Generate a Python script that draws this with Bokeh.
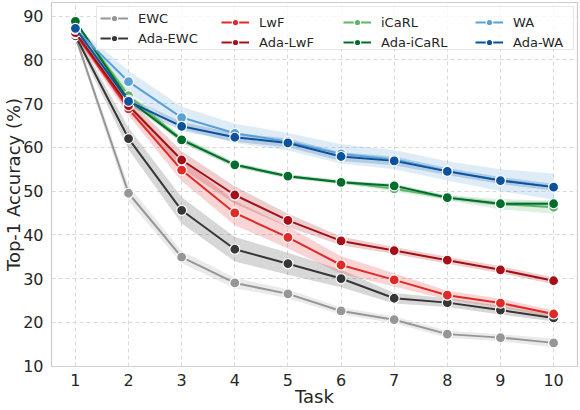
from bokeh.plotting import figure
from bokeh.models import Range1d, FixedTicker, Legend, LegendItem
from bokeh.embed import file_html
from bokeh.resources import INLINE

tasks = [1, 2, 3, 4, 5, 6, 7, 8, 9, 10]
x_ticks = [1, 2, 3, 4, 5, 6, 7, 8, 9, 10]
y_ticks = [10, 20, 30, 40, 50, 60, 70, 80, 90]

methods = ["EWC", "Ada-EWC", "LwF", "Ada-LwF", "iCaRL", "Ada-iCaRL", "WA", "Ada-WA"]

ewc = [85.3, 49.5, 34.9, 29.0, 26.5, 22.6, 20.6, 17.3, 16.5, 15.3]
ada_ewc = [85.5, 62.0, 45.6, 36.7, 33.4, 30.0, 25.5, 24.5, 22.8, 21.0]
lwf = [86.0, 68.8, 54.8, 45.0, 39.4, 33.1, 29.7, 26.2, 24.4, 21.9]
ada_lwf = [86.2, 69.5, 57.1, 49.1, 43.3, 38.6, 36.4, 34.2, 32.0, 29.5]
icarl = [88.5, 71.8, 61.8, 56.0, 53.4, 52.1, 50.5, 48.5, 47.0, 46.3]
ada_icarl = [88.8, 70.8, 61.7, 56.0, 53.4, 52.0, 51.2, 48.5, 47.1, 47.1]
wa = [87.0, 75.0, 66.8, 63.2, 61.3, 58.5, 57.2, 54.6, 52.5, 51.0]
ada_wa = [87.2, 70.5, 64.8, 62.3, 61.0, 57.9, 56.9, 54.5, 52.4, 50.9]

# half-width of the shaded confidence band
ewc_err = [0.8, 1.8, 1.4, 1.2, 1.0, 0.8, 0.8, 0.8, 0.8, 1.0]
ada_ewc_err = [0.8, 2.5, 3.0, 2.8, 2.5, 2.0, 1.2, 1.0, 1.0, 0.8]
lwf_err = [0.8, 1.5, 2.5, 2.8, 2.5, 2.0, 1.5, 1.0, 1.0, 0.8]
ada_lwf_err = [0.8, 1.5, 2.0, 2.0, 1.5, 1.0, 0.8, 0.8, 0.8, 0.8]
icarl_err = [0.5, 0.8, 0.8, 0.6, 0.5, 0.5, 0.6, 0.6, 1.2, 1.5]
ada_icarl_err = [0.5, 0.6, 0.6, 0.5, 0.4, 0.4, 0.5, 0.5, 0.5, 0.5]
wa_err = [0.8, 2.5, 2.5, 2.2, 2.0, 2.2, 2.2, 2.2, 2.5, 3.0]
ada_wa_err = [0.8, 1.0, 1.0, 1.0, 1.0, 1.0, 1.0, 0.8, 0.8, 0.8]

colors = ["#969696", "#363636", "#e02a26", "#a50f15",
          "#5db567", "#006d2c", "#5aa1d6", "#0b519c"]

series = [ewc, ada_ewc, lwf, ada_lwf, icarl, ada_icarl, wa, ada_wa]
errs = [ewc_err, ada_ewc_err, lwf_err, ada_lwf_err,
        icarl_err, ada_icarl_err, wa_err, ada_wa_err]

FONT = "DejaVu Sans"
TXT = "#262626"

p = figure(width=580, height=410, output_backend="svg", toolbar_location=None,
           x_range=Range1d(0.55, 10.45), y_range=Range1d(9.9, 93.1),
           min_border_left=51, min_border_right=3, min_border_top=2,
           min_border_bottom=44)

p.background_fill_color = "white"
p.outline_line_color = "#cccccc"
p.outline_line_width = 1.2

for ax in (p.xaxis, p.yaxis):
    ax.axis_line_color = None
    ax.major_tick_line_color = None
    ax.minor_tick_line_color = None
    ax.major_tick_out = 0
    ax.major_tick_in = 0
    ax.minor_tick_out = 0
    ax.minor_tick_in = 0
    ax.major_label_text_font = FONT
    ax.major_label_text_font_size = "16px"
    ax.major_label_text_color = TXT
    ax.axis_label_text_font = FONT
    ax.axis_label_text_font_size = "18px"
    ax.axis_label_text_font_style = "normal"
    ax.axis_label_text_color = TXT

p.xaxis.ticker = FixedTicker(ticks=x_ticks)
p.yaxis.ticker = FixedTicker(ticks=y_ticks)
p.xaxis.axis_label = "Task"
p.yaxis.axis_label = "Top-1 Accuracy (%)"
p.xaxis.major_label_standoff = 7
p.yaxis.major_label_standoff = 8
p.xaxis.axis_label_standoff = -3
p.yaxis.axis_label_standoff = -4

for g in (p.xgrid, p.ygrid):
    g.grid_line_color = "#d9d9d9"
    g.grid_line_dash = "4 3"
    g.grid_line_width = 1

items = []
for name, ys, er, c in zip(methods, series, errs, colors):
    lo = [y - e for y, e in zip(ys, er)]
    hi = [y + e for y, e in zip(ys, er)]
    p.varea(x=tasks, y1=lo, y2=hi, fill_color=c, fill_alpha=0.2)
for name, ys, er, c in zip(methods, series, errs, colors):
    ln = p.line(tasks, ys, line_color=c, line_width=2)
    sc = p.scatter(tasks, ys, size=10, fill_color=c, line_color="white",
                   line_width=1.2)
    items.append(LegendItem(label=name, renderers=[ln, sc]))

# legend: four two-item columns placed side by side; the first one carries
# the frame and background of the whole box
col_x = [45, 170, 292, 424]
for i, vx in enumerate(col_x):
    lg = Legend(items=items[2 * i:2 * i + 2], location=(vx, 316),
                orientation="vertical")
    lg.label_text_font = FONT
    lg.label_text_font_size = "13px"
    lg.label_text_color = TXT
    lg.glyph_width = 28
    lg.glyph_height = 16
    lg.label_height = 16
    lg.label_standoff = 10
    lg.spacing = 4
    lg.padding = 3
    lg.margin = 0
    if i == 0:
        lg.label_width = 432
        lg.border_line_color = "#d0d0d0"
        lg.border_line_width = 1
        lg.background_fill_color = "white"
        lg.background_fill_alpha = 0.8
    else:
        lg.border_line_color = None
        lg.background_fill_alpha = 0.0
    p.add_layout(lg)

open("out.html", "w").write(file_html(p, INLINE))
